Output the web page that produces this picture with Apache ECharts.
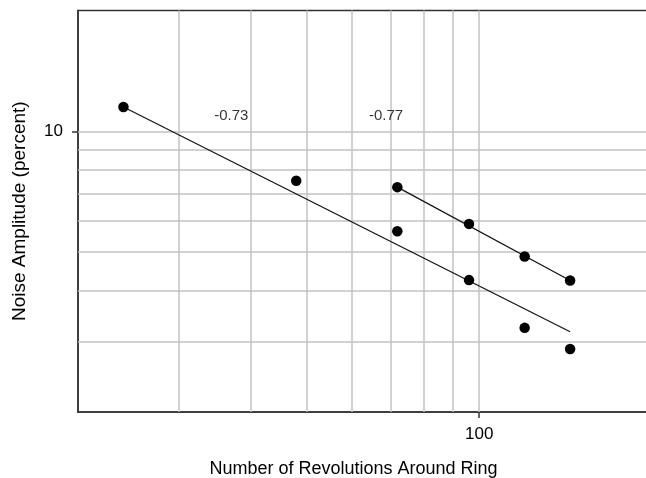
<!DOCTYPE html>
<html>
<head>
<meta charset="utf-8">
<script src="https://cdn.jsdelivr.net/npm/echarts@6/dist/echarts.min.js"></script>
<style>
html,body{margin:0;padding:0;background:#fff;}
#chart{width:646px;height:478px;}
</style>
</head>
<body>
<div id="chart"></div>
<script>
// ---- data ----
const revolutionsA = [24, 48, 72, 96, 120, 144];
const noiseA = [11.5, 7.53, 5.64, 4.26, 3.24, 2.87];
const revolutionsB = [72, 96, 120, 144];
const noiseB = [7.26, 5.88, 4.88, 4.25];
// fitted power-law lines (end points)
const fitAX = [24, 144];
const fitAY = [11.5, 3.17];
const fitBX = [72, 144];
const fitBY = [7.26, 4.25];
// slope annotations and where they sit (data coordinates)
const slopeLabels = ['-0.73', '-0.77'];
const slopeLabelX = [37, 68.8];
const slopeLabelY = [10.9, 10.9];
// axis ranges, labelled ticks and grid lines
const xRange = [20, 200];
const yRange = [2, 20];
const xTickLabels = [100];
const yTickLabels = [10];
const xGridLines = [30, 40, 50, 60, 70, 80, 90, 100];
const yGridLines = [3, 4, 5, 6, 7, 8, 9, 10];

const zip = (xs, ys) => xs.map((x, i) => [x, ys[i]]);
const FONT = '"Liberation Sans", Arial, Helvetica, sans-serif';
const chart = echarts.init(document.getElementById('chart'), null, {renderer: 'canvas'});

const gridColor = '#c2c2c2';
const axisColor = '#333333';

chart.setOption({
  animation: false,
  backgroundColor: '#ffffff',
  textStyle: {fontFamily: FONT},
  grid: {
    left: 78, top: 10.4, width: 574, height: 401.6,
    show: true, borderColor: axisColor, borderWidth: 1.5,
    backgroundColor: 'transparent',
    containLabel: false, outerBoundsMode: 'none'
  },
  xAxis: {
    type: 'log', logBase: 10, min: xRange[0], max: xRange[1],
    name: 'Number of Revolutions Around Ring',
    nameLocation: 'middle', nameGap: 48,
    nameTextStyle: {fontSize: 18, color: '#000', fontFamily: FONT, padding: [0, 23, 0, 0]},
    axisLine: {show: true, lineStyle: {color: axisColor, width: 1.5}},
    axisTick: {show: true, length: 6, inside: false, customValues: xTickLabels,
      lineStyle: {color: axisColor, width: 1.5}},
    axisLabel: {show: true, customValues: xTickLabels, fontSize: 17, color: '#000',
      fontFamily: FONT, margin: 14,
      formatter: v => (xTickLabels.indexOf(Math.round(v)) >= 0 ? String(Math.round(v)) : '')},
    splitLine: {show: false},
    minorTick: {show: false}, minorSplitLine: {show: false}
  },
  yAxis: {
    type: 'log', logBase: 10, min: yRange[0], max: yRange[1],
    name: 'Noise Amplitude (percent)',
    nameLocation: 'middle', nameGap: 49, nameRotate: 90,
    nameTextStyle: {fontSize: 19, color: '#000', fontFamily: FONT},
    axisLine: {show: true, lineStyle: {color: axisColor, width: 1.5}},
    axisTick: {show: true, length: 6, inside: false, customValues: yTickLabels,
      lineStyle: {color: axisColor, width: 1.5}},
    axisLabel: {show: true, customValues: yTickLabels, fontSize: 17, color: '#000',
      fontFamily: FONT, margin: 15,
      formatter: v => (yTickLabels.indexOf(Math.round(v)) >= 0 ? String(Math.round(v)) : '')},
    splitLine: {show: false},
    minorTick: {show: false}, minorSplitLine: {show: false}
  },
  series: [
    {
      name: 'fitA', type: 'line', data: zip(fitAX, fitAY),
      symbol: 'none', silent: true, z: 3,
      lineStyle: {color: '#111', width: 1.2},
      markLine: {
        silent: true, symbol: 'none', z: 1, animation: false,
        label: {show: false},
        lineStyle: {color: gridColor, width: 1.5, type: 'solid'},
        emphasis: {disabled: true},
        data: xGridLines.map(v => ({xAxis: v})).concat(yGridLines.map(v => ({yAxis: v})))
      }
    },
    {
      name: 'fitB', type: 'line', data: zip(fitBX, fitBY),
      symbol: 'none', silent: true, z: 3,
      lineStyle: {color: '#111', width: 1.2}
    },
    {
      name: 'groupA', type: 'scatter', data: zip(revolutionsA, noiseA),
      symbol: 'circle', symbolSize: 10.5, z: 4,
      itemStyle: {color: '#000', opacity: 1}
    },
    {
      name: 'groupB', type: 'scatter', data: zip(revolutionsB, noiseB),
      symbol: 'circle', symbolSize: 10.5, z: 4,
      itemStyle: {color: '#000', opacity: 1}
    },
    {
      name: 'slopes', type: 'scatter', silent: true, z: 5,
      data: slopeLabels.map((t, i) => ({value: [slopeLabelX[i], slopeLabelY[i]], name: t})),
      symbol: 'circle', symbolSize: 1,
      itemStyle: {color: 'rgba(0,0,0,0)'},
      label: {show: true, position: 'inside', formatter: p => p.name,
        fontSize: 15, color: '#000', fontFamily: FONT}
    }
  ]
});
</script>
</body>
</html>
